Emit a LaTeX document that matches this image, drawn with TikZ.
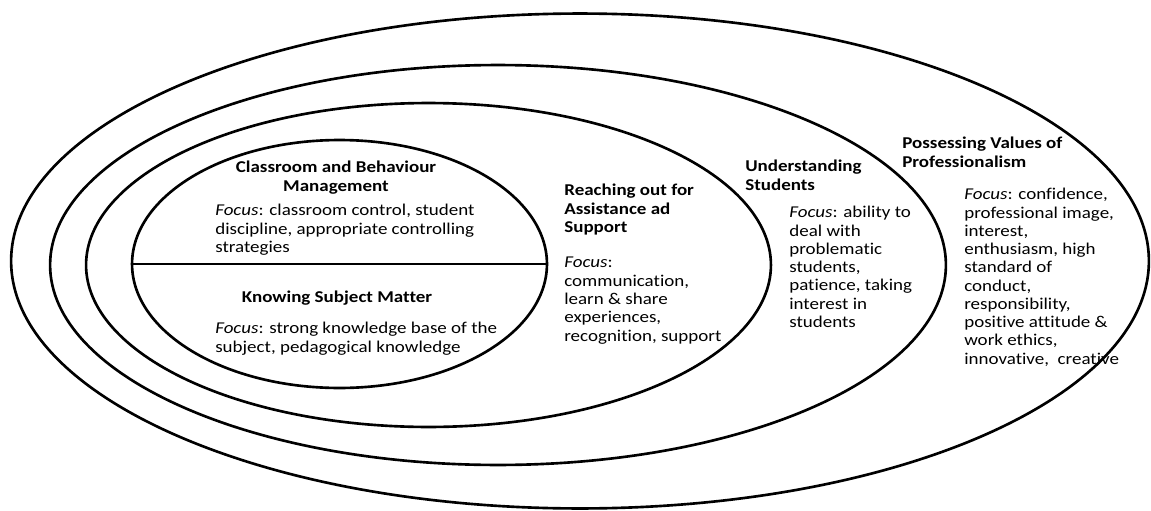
\documentclass[tikz,border=0pt]{standalone}
\usepackage{fontspec}
\setmainfont{Carlito}[FakeStretch=1.15, Ligatures=CommonOff]
\usetikzlibrary{shapes.geometric}

\begin{document}
\begin{tikzpicture}[x=0.02cm, y=-0.02cm, line width=1.5pt,
    ring/.style = {draw, ellipse, inner sep=0pt},
    head/.style = {font=\fontsize{9.4}{10.4}\selectfont\bfseries, inner sep=0pt, align=left, anchor=north west},
    focus/.style = {font=\fontsize{9.4}{10.4}\selectfont, inner sep=0pt, align=left, anchor=north west}]
    \useasboundingbox (0,0) rectangle (1151,510);

    % the four rings, inside out
    \node[ring, minimum width=8.3cm, minimum height=4.96cm] (core) at (339.5,264) {};
    \node[ring, minimum width=13.7cm, minimum height=6.48cm] (reach) at (428.5,265) {};
    \node[ring, minimum width=17.92cm, minimum height=8cm] (under) at (498,265) {};
    \node[ring, minimum width=22.76cm, minimum height=9.9cm] (prof) at (580,261) {};
    \draw (core.west) -- (core.east);

    \node[head, align=center, anchor=north] (cbm) at (336,160) {Classroom and Behaviour\\Management};
    \node[focus] (cbmf) at (214,203) {\textit{Focus}: classroom control, student\\discipline, appropriate controlling\\strategies};

    \node[head, align=center, anchor=north] (ksm) at (337,290) {Knowing Subject Matter};
    \node[focus] (ksmf) at (214,321) {\textit{Focus}: strong knowledge base of the\\subject, pedagogical knowledge};

    \node[head] (ros) at (563,183) {Reaching out for\\Assistance ad\\Support};
    \node[focus] (rosf) at (563,256) {\textit{Focus}:\\communication,\\learn \& share\\experiences,\\recognition, support};

    \node[head] (us) at (744,159) {Understanding\\Students};
    \node[focus] (usf) at (788,205) {\textit{Focus}: ability to\\deal with\\problematic\\students,\\patience, taking\\interest in\\students};

    \node[head] (pvp) at (901,136) {Possessing Values of\\Professionalism};
    \node[focus] (pvpf) at (963,187) {\textit{Focus}: confidence,\\professional image,\\interest,\\enthusiasm, high\\standard of\\conduct,\\responsibility,\\positive attitude \&\\work ethics,\\innovative,~ creative};

\end{tikzpicture}
\end{document}
